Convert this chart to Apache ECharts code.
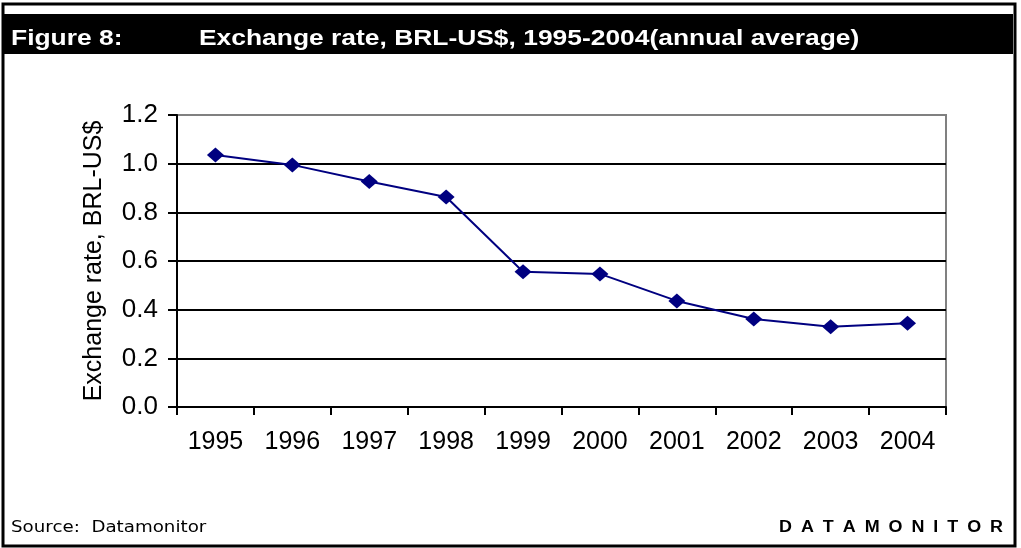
<!DOCTYPE html>
<html><head><meta charset="utf-8">
<script src="https://cdn.jsdelivr.net/npm/echarts@6/dist/echarts.min.js"></script>
<style>html,body{margin:0;padding:0;background:#fff}#c{width:1021px;height:548px}</style>
</head><body><div id="c"></div>
<script>
const years = ['1995','1996','1997','1998','1999','2000','2001','2002','2003','2004'];
const rates = [1.036, 0.995, 0.927, 0.863, 0.556, 0.547, 0.436, 0.362, 0.330, 0.344];
const yMin = 0, yMax = 1.2, yStep = 0.2;
const figureLabel = 'Figure 8:';
const titleText = 'Exchange rate, BRL-US$, 1995-2004(annual average)';
const yAxisTitle = 'Exchange rate, BRL-US$';
const sourceText = 'Source:  Datamonitor';
const brandText = 'DATAMONITOR';

const chart = echarts.init(document.getElementById('c'), null, {renderer: 'canvas'});
const sansFont = '"Liberation Sans", Arial, sans-serif';
chart.setOption({
  backgroundColor: '#ffffff',
  animation: false,
  grid: {left: 177, right: 75, top: 115, bottom: 141, show: true, borderColor: '#808080', borderWidth: 2, backgroundColor: 'transparent'},
  xAxis: {
    type: 'category', data: years, boundaryGap: true,
    axisLine: {lineStyle: {color: '#000', width: 2}},
    axisTick: {show: true, length: 8, lineStyle: {color: '#000', width: 2}},
    axisLabel: {color: '#000', fontSize: 25, fontFamily: sansFont, margin: 23},
    splitLine: {show: false}
  },
  yAxis: {
    type: 'value', min: yMin, max: yMax, interval: yStep,
    name: yAxisTitle, nameLocation: 'middle', nameGap: 70, nameRotate: 90,
    nameTextStyle: {color: '#000', fontSize: 25, fontFamily: sansFont},
    axisLine: {show: true, lineStyle: {color: '#000', width: 2}},
    axisTick: {show: true, length: 9, lineStyle: {color: '#000', width: 2}},
    axisLabel: {color: '#000', fontSize: 26, fontFamily: sansFont, margin: 19, formatter: v => v.toFixed(1)},
    splitLine: {show: true, lineStyle: {color: ['#000','#000','#000','#000','#000','#000','#808080'], width: 2}}
  },
  series: [{
    type: 'line', data: rates,
    symbol: 'diamond', symbolSize: [17, 15],
    lineStyle: {color: '#000080', width: 2},
    itemStyle: {color: '#000080'},
    z: 5
  }],
  graphic: [
    {type: 'rect', shape: {x: 3, y: 4, width: 1012, height: 542}, style: {fill: 'none', stroke: '#000', lineWidth: 3}, silent: true},
    {type: 'rect', shape: {x: 4, y: 14, width: 1009, height: 40}, style: {fill: '#000'}, silent: true},
    {type: 'text', x: 11, y: 39, scaleX: 1.2, style: {text: figureLabel, fill: '#fff', font: 'bold 22px ' + sansFont, verticalAlign: 'middle'}},
    {type: 'text', x: 199, y: 39, scaleX: 1.2, style: {text: titleText, fill: '#fff', font: 'bold 22px ' + sansFont, verticalAlign: 'middle'}},
    {type: 'text', x: 11, y: 528, scaleX: 1.14, style: {text: sourceText, fill: '#000', font: '16px "DejaVu Sans", Verdana, sans-serif', verticalAlign: 'middle'}},
    {type: 'text', x: 1003, y: 528, scaleX: 1.12, style: {text: brandText.split('').join('\u2002'), fill: '#000', font: 'bold 16px ' + sansFont, align: 'right', verticalAlign: 'middle'}}
  ]
});
</script></body></html>
